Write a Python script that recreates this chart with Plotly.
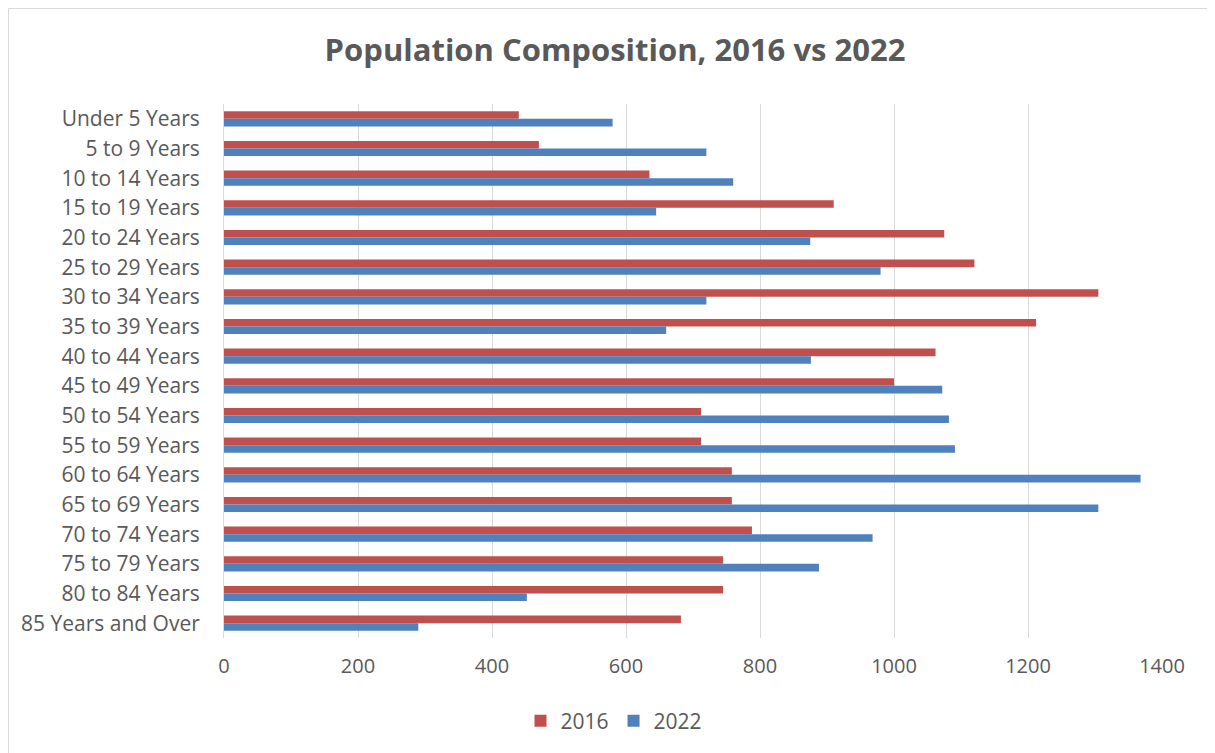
import plotly.graph_objects as go

categories = ["Under 5 Years", "5 to 9 Years", "10 to 14 Years", "15 to 19 Years",
              "20 to 24 Years", "25 to 29 Years", "30 to 34 Years", "35 to 39 Years",
              "40 to 44 Years", "45 to 49 Years", "50 to 54 Years", "55 to 59 Years",
              "60 to 64 Years", "65 to 69 Years", "70 to 74 Years", "75 to 79 Years",
              "80 to 84 Years", "85 Years and Over"]
values_2016 = [440, 470, 635, 910, 1075, 1120, 1305, 1212, 1062, 1000,
               712, 712, 758, 758, 788, 745, 745, 682]
values_2022 = [580, 720, 760, 645, 875, 980, 720, 660, 876, 1072,
               1082, 1091, 1368, 1305, 968, 888, 452, 290]
x_ticks = [0, 200, 400, 600, 800, 1000, 1200, 1400]

FONT = "Open Sans"
GRAY = "#595959"

W, H = 1207, 745
L, R, T, B = 216, 53, 96, 115
PW, PH = W - L - R, H - T - B

fig = go.Figure()
fig.add_trace(go.Bar(y=categories, x=values_2016, name="2016", orientation="h",
                     marker=dict(color="#C0504D", line=dict(width=0))))
fig.add_trace(go.Bar(y=categories, x=values_2022, name="2022", orientation="h",
                     marker=dict(color="#4F81BD", line=dict(width=0))))

fig.update_layout(
    width=W, height=H,
    margin=dict(l=L, r=R, t=T, b=B),
    paper_bgcolor="white", plot_bgcolor="white",
    barmode="group", bargap=0.49, bargroupgap=0,
    font=dict(family=FONT, color=GRAY, size=20),
    title=dict(text="<b>Population Composition, 2016 vs 2022</b>",
               x=(615 - 8) / W, xanchor="center", y=1 - 42 / H, yanchor="middle",
               font=dict(family=FONT, size=31, color=GRAY)),
    legend=dict(orientation="h", x=(614 - 8 - L) / PW, xanchor="center",
                y=-(721 - 638) / PH, yanchor="middle",
                font=dict(family=FONT, size=21, color=GRAY),
                itemwidth=30, traceorder="normal"),
    xaxis=dict(range=[0, 1400], tickvals=x_ticks, showgrid=True, gridcolor="#D9D9D9",
               gridwidth=1, zeroline=False, showline=False, ticks="",
               ticklabelstandoff=14, tickfont=dict(size=20, color=GRAY)),
    yaxis=dict(autorange="reversed", showgrid=False, zeroline=False,
               showline=True, linecolor="#D9D9D9", linewidth=1, ticks="",
               ticklabelstandoff=19, tickfont=dict(size=21, color=GRAY)),
    shapes=[dict(type="rect", xref="paper", yref="paper",
                 x0=(0.5 - L) / PW, x1=(1205 - L) / PW,
                 y0=-1, y1=(H - B - 0.5) / PH,
                 line=dict(color="#D9D9D9", width=1), fillcolor="rgba(0,0,0,0)",
                 layer="below")],
)

fig.write_html("out.html")
